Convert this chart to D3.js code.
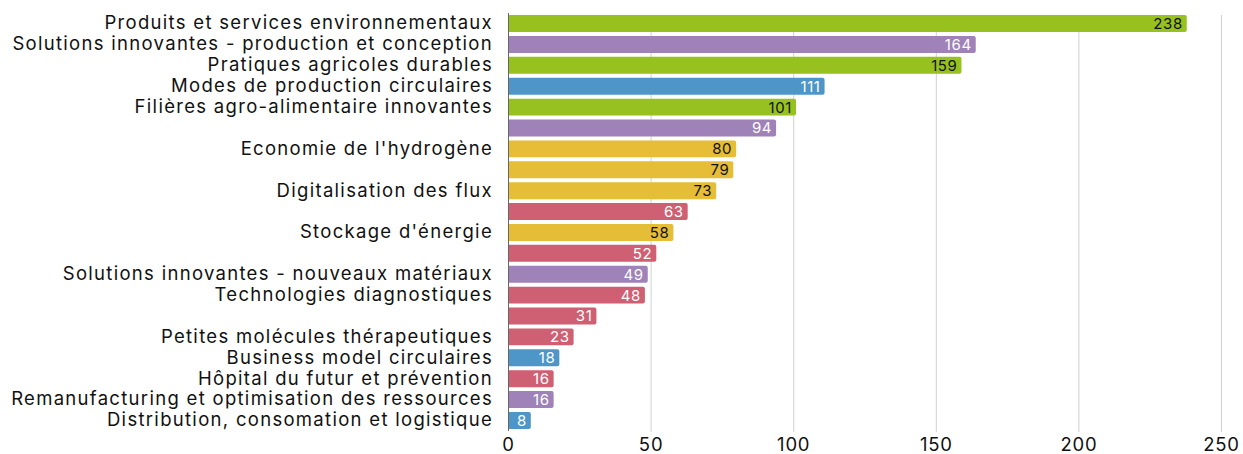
<!DOCTYPE html>
<html><head><meta charset="utf-8">
<script src="https://cdn.jsdelivr.net/npm/d3@7"></script>
<style>
html,body{margin:0;padding:0;background:#fff;}
svg{display:block;}
text{font-family:Inter, "Open Sans", sans-serif;}
</style></head>
<body><svg id="chart" width="1243" height="454"></svg>
<script>
const categories = [
  "Produits et services environnementaux",
  "Solutions innovantes - production et conception",
  "Pratiques agricoles durables",
  "Modes de production circulaires",
  "Filières agro-alimentaire innovantes",
  "",
  "Economie de l'hydrogène",
  "",
  "Digitalisation des flux",
  "",
  "Stockage d'énergie",
  "",
  "Solutions innovantes - nouveaux matériaux",
  "Technologies diagnostiques",
  "",
  "Petites molécules thérapeutiques",
  "Business model circulaires",
  "Hôpital du futur et prévention",
  "Remanufacturing et optimisation des ressources",
  "Distribution, consomation et logistique"
];
const values = [238,164,159,111,101,94,80,79,73,63,58,52,49,48,31,23,18,16,16,8];
const groups = ["green","purple","green","blue","green","purple","yellow","yellow","yellow","red","yellow","red","purple","red","red","red","blue","red","purple","blue"];
const xTicks = [0,50,100,150,200,250];

(function(){
const colors = {green:"#97c11f", purple:"#9e82b8", blue:"#4e96c8", yellow:"#e5bd37", red:"#cf5f72"};
const labelColors = {green:"#111", purple:"#fff", blue:"#fff", yellow:"#111", red:"#fff"};
const FONT = "Inter, 'Open Sans', sans-serif";

const svg = d3.select("#chart");
const mLeft = 508, mRight = 1221, mTop = 13, mBottom = 431;
const x = d3.scaleLinear().domain([0,250]).range([mLeft,mRight]);
const y = d3.scaleBand().domain(d3.range(values.length)).range([mTop,mBottom]).paddingInner(0.19).paddingOuter(0.1);

// grid
svg.append("g").selectAll("line").data(xTicks.filter(d=>d>0)).join("line")
  .attr("x1",d=>x(d)+0.5).attr("x2",d=>x(d)+0.5).attr("y1",15).attr("y2",432)
  .attr("stroke","#d0d0d0").attr("stroke-width",1);

// axis labels
const xAxis = d3.axisBottom(x).tickValues(xTicks).tickSize(0).tickPadding(0);
const gx = svg.append("g").attr("transform",`translate(0,${mBottom})`).call(xAxis);
gx.select(".domain").remove();
gx.selectAll("text").attr("font-size",18.5).attr("fill","#111").attr("dy","20")
  .attr("letter-spacing","0.8px").attr("font-family",FONT);

// bars
svg.append("g").selectAll("path").data(values).join("path")
  .attr("d",(d,i)=>{
    const x0=x(0), x1=x(d), y0=y(i), h=y.bandwidth(), r=2;
    return `M${x0},${y0}H${x1-r}Q${x1},${y0} ${x1},${y0+r}V${y0+h-r}Q${x1},${y0+h} ${x1-r},${y0+h}H${x0}Z`;
  })
  .attr("fill",(d,i)=>colors[groups[i]]);

// axis line
svg.append("line").attr("x1",mLeft+0.5).attr("x2",mLeft+0.5).attr("y1",mTop).attr("y2",mBottom)
  .attr("stroke","#666").attr("stroke-width",1);

// category labels
const yAxis = d3.axisLeft(y).tickFormat(i=>categories[i]).tickSize(0).tickPadding(15);
const gy = svg.append("g").attr("transform",`translate(${mLeft},0)`).call(yAxis);
gy.select(".domain").remove();
gy.selectAll("text").attr("font-size",18.5).attr("fill","#111")
  .attr("letter-spacing","1.3px").attr("font-family",FONT);

// value labels
svg.append("g").selectAll("text").data(values).join("text")
  .attr("x",d=>x(d)-4).attr("y",(d,i)=>y(i)+y.bandwidth()/2)
  .attr("dy","0.36em").attr("text-anchor","end")
  .attr("font-size",15).attr("letter-spacing","0.6px").attr("fill",(d,i)=>labelColors[groups[i]])
  .attr("font-family",FONT)
  .text(d=>d);
})();
</script></body></html>
